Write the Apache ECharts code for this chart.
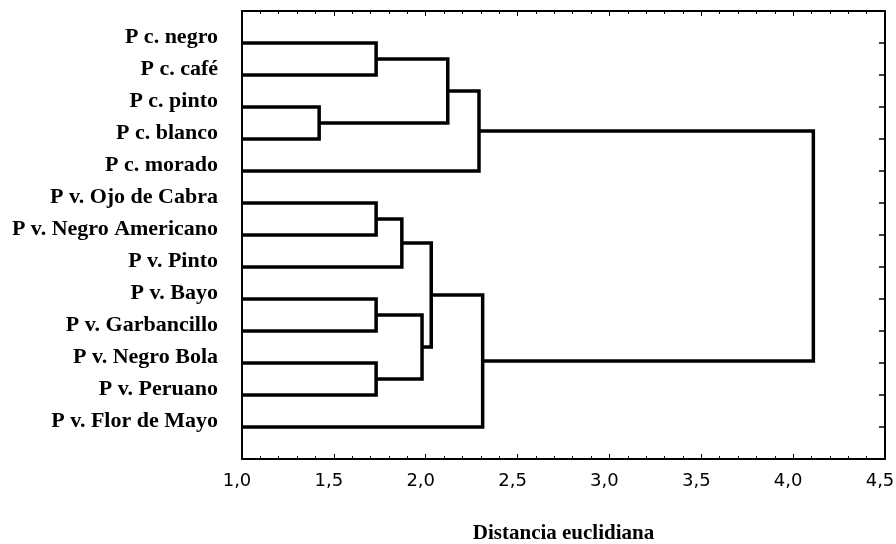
<!DOCTYPE html>
<html>
<head>
<meta charset="utf-8">
<script src="https://cdn.jsdelivr.net/npm/echarts@6/dist/echarts.min.js"></script>
<style>html,body{margin:0;padding:0;background:#fff}#c{width:896px;height:544px}</style>
</head>
<body>
<div id="c"></div>
<script>
// Leaves, top to bottom
const leaves = [
  'P c. negro', 'P c. café', 'P c. pinto', 'P c. blanco', 'P c. morado',
  'P v. Ojo de Cabra', 'P v. Negro Americano', 'P v. Pinto', 'P v. Bayo',
  'P v. Garbancillo', 'P v. Negro Bola', 'P v. Peruano', 'P v. Flor de Mayo'
];
// Merges: node ids 0..12 are leaves, new clusters get ids 13, 14, ...
const mergeA = [0, 2, 13, 15, 5, 17, 8, 10, 19, 18, 22, 16];
const mergeB = [1, 3, 14, 4, 6, 7, 9, 11, 20, 21, 12, 23];
const mergeHeight = [1.73, 1.42, 2.12, 2.29, 1.73, 1.87, 1.73, 1.73, 1.98, 2.03, 2.31, 4.11];
// Axis settings
const xMin = 1.0, xMax = 4.5, xStep = 0.5;

const nodeX = leaves.map(() => xMin);
const nodeY = leaves.map((_, i) => i);
const series = [];
for (let k = 0; k < mergeHeight.length; k++) {
  const a = mergeA[k], b = mergeB[k], h = mergeHeight[k];
  series.push({
    type: 'line',
    symbol: 'none',
    silent: true,
    lineStyle: { color: '#000', width: 3.5, join: 'miter', cap: 'butt' },
    data: [[nodeX[a], nodeY[a]], [h, nodeY[a]], [h, nodeY[b]], [nodeX[b], nodeY[b]]]
  });
  nodeX.push(h);
  nodeY.push((nodeY[a] + nodeY[b]) / 2);
}

const chart = echarts.init(document.getElementById('c'), null, { renderer: 'canvas' });
const axisLine = { show: true, onZero: false, lineStyle: { color: '#000', width: 2 } };
chart.setOption({
  animation: false,
  grid: { left: 242, right: 11, top: 11, bottom: 85, containLabel: false, outerBoundsMode: 'none' },
  xAxis: [{
    type: 'value', min: xMin, max: xMax, interval: xStep, position: 'bottom',
    axisLine: axisLine,
    axisTick: { show: true, inside: true, length: 5, lineStyle: { color: '#000', width: 1 } },
    minorTick: { show: true, splitNumber: 5, length: 3, lineStyle: { color: '#000', width: 1 } },
    splitLine: { show: false },
    axisLabel: {
      color: '#000', fontFamily: 'DejaVu Sans', fontSize: 18, margin: 13,
      padding: [0, 10, 0, 0],
      formatter: v => v.toFixed(1).replace('.', ',')
    },
    name: 'Distancia euclidiana', nameLocation: 'middle', nameGap: 64,
    nameTextStyle: { color: '#000', fontFamily: 'Liberation Serif', fontWeight: 'bold', fontSize: 21 }
  }, {
    type: 'value', min: xMin, max: xMax, interval: xStep, position: 'top',
    axisLine: axisLine,
    axisTick: { show: true, inside: true, length: 5, lineStyle: { color: '#000', width: 1 } },
    minorTick: { show: true, splitNumber: 5, length: 3, lineStyle: { color: '#000', width: 1 } },
    splitLine: { show: false },
    axisLabel: { show: false }
  }],
  yAxis: [{
    type: 'value', min: -1, max: leaves.length, interval: 1, inverse: true, position: 'left',
    axisLine: axisLine,
    axisTick: { show: false },
    splitLine: { show: false },
    axisLabel: {
      color: '#000', fontFamily: 'Liberation Serif', fontWeight: 'bold', fontSize: 22,
      margin: 24, verticalAlign: 'bottom', lineHeight: 12,
      formatter: v => (Number.isInteger(v) && v >= 0 && v < leaves.length) ? leaves[v] : ''
    }
  }, {
    type: 'value', min: -1, max: leaves.length, interval: 1, inverse: true, position: 'right',
    axisLine: axisLine,
    axisTick: { show: true, inside: true, length: 6, lineStyle: { color: '#000', width: 1.5 } },
    splitLine: { show: false },
    axisLabel: { show: false }
  }],
  series: series
});
</script>
</body>
</html>
